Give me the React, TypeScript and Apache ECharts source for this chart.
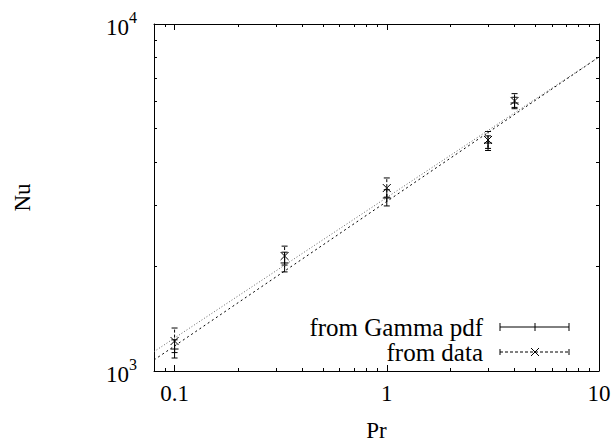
import React, { useEffect, useRef } from 'react';
import * as echarts from 'echarts';

const prValues = [0.1, 0.33, 1, 3, 4];
const gammaNu = [1157, 2048, 3152, 4540, 5920];
const gammaLow = [1090, 1930, 2990, 4320, 5700];
const gammaHigh = [1230, 2200, 3330, 4760, 6150];
const dataNu = [1220, 2145, 3367, 4632, 6000];
const dataLow = [1130, 2020, 3170, 4380, 5750];
const dataHigh = [1330, 2290, 3600, 4900, 6300];
const fitPr = [0.08, 10];
const fitGammaNu = [1076, 8035];
const fitDataNu = [1137, 8035];
const xMajorTicks = [0.1, 1, 10];
const xMinorTicks = [0.09, 0.2, 0.3, 0.4, 0.5, 0.6, 0.7, 0.8, 0.9, 2, 3, 4, 5, 6, 7, 8, 9];
const yMajorTicks = [1000, 10000];
const yMinorTicks = [2000, 3000, 4000, 5000, 6000, 7000, 8000, 9000];
const seriesNames = ['from Gamma pdf', 'from data'];
const xName = 'Pr';
const yName = 'Nu';

const FONT = 'Liberation Serif';

export default function App() {
  const ref = useRef<HTMLDivElement>(null);
  useEffect(() => {
    document.body.style.margin = '0';
    if (!ref.current) return;
    const chart = echarts.init(ref.current, null, { renderer: 'svg' });

    const makeRender = (kind: 'plus' | 'cross', dash: number[] | null) => (params: any, api: any) => {
      const x = api.value(0);
      const c = api.coord([x, api.value(1)]);
      const lo = api.coord([x, api.value(2)]);
      const hi = api.coord([x, api.value(3)]);
      const bar: any = { stroke: '#000', lineWidth: 1 };
      if (dash) bar.lineDash = dash;
      const solid = { stroke: '#000', lineWidth: 1 };
      const cap = 3;
      const m = 4;
      const children: any[] = [
        { type: 'line', shape: { x1: c[0], y1: lo[1], x2: c[0], y2: hi[1] }, style: bar },
        { type: 'line', shape: { x1: c[0] - cap, y1: lo[1], x2: c[0] + cap, y2: lo[1] }, style: solid },
        { type: 'line', shape: { x1: c[0] - cap, y1: hi[1], x2: c[0] + cap, y2: hi[1] }, style: solid },
      ];
      if (kind === 'plus') {
        children.push({ type: 'line', shape: { x1: c[0] - m, y1: c[1], x2: c[0] + m, y2: c[1] }, style: solid });
        children.push({ type: 'line', shape: { x1: c[0], y1: c[1] - m, x2: c[0], y2: c[1] + m }, style: solid });
      } else {
        children.push({ type: 'line', shape: { x1: c[0] - m, y1: c[1] - m, x2: c[0] + m, y2: c[1] + m }, style: solid });
        children.push({ type: 'line', shape: { x1: c[0] - m, y1: c[1] + m, x2: c[0] + m, y2: c[1] - m }, style: solid });
      }
      return { type: 'group', children };
    };

    const axisCommon = {
      type: 'log' as const,
      logBase: 10,
      splitLine: { show: false },
      axisLine: { show: true, lineStyle: { color: '#000', width: 1 } },
    };
    const xBase = { ...axisCommon, min: 0.08, max: 10 };
    const yBase = { ...axisCommon, min: 1000, max: 10000 };
    const noLabel = { show: false };

    const option: any = {
      animation: false,
      backgroundColor: '#fff',
      textStyle: { fontFamily: FONT },
      grid: { left: 154, top: 24, width: 445, height: 347, outerBoundsMode: 'none' },
      xAxis: [
        {
          ...xBase,
          position: 'bottom',
          name: xName,
          nameLocation: 'middle',
          nameGap: 48,
          nameTextStyle: { fontFamily: FONT, fontSize: 23, color: '#000' },
          axisTick: { inside: true, length: 6, customValues: xMajorTicks, lineStyle: { color: '#000' } },
          axisLabel: {
            customValues: xMajorTicks,
            margin: 11,
            fontFamily: FONT,
            fontSize: 23,
            color: '#000',
            formatter: (v: number) => String(v),
          },
        },
        {
          ...xBase,
          position: 'top',
          axisTick: { inside: true, length: 6, customValues: xMajorTicks, lineStyle: { color: '#000' } },
          axisLabel: noLabel,
        },
        {
          ...xBase,
          position: 'top',
          axisLine: { show: false },
          axisTick: { inside: true, length: 3, customValues: xMinorTicks, lineStyle: { color: '#000' } },
          axisLabel: noLabel,
        },
        {
          ...xBase,
          position: 'bottom',
          axisLine: { show: false },
          axisTick: { inside: true, length: 3, customValues: xMinorTicks, lineStyle: { color: '#000' } },
          axisLabel: noLabel,
        },
      ],
      yAxis: [
        {
          ...yBase,
          position: 'left',
          name: yName,
          nameLocation: 'middle',
          nameRotate: 90,
          nameGap: 120,
          nameTextStyle: { fontFamily: FONT, fontSize: 23, color: '#000' },
          axisTick: { inside: true, length: 6, customValues: yMajorTicks, lineStyle: { color: '#000' } },
          axisLabel: {
            customValues: yMajorTicks,
            margin: 17,
            color: '#000',
            formatter: (v: number) => `{b|10}{s|${Math.round(Math.log10(v))}}`,
            rich: {
              b: { fontFamily: FONT, fontSize: 23, color: '#000', verticalAlign: 'bottom', lineHeight: 30 },
              s: { fontFamily: FONT, fontSize: 16, color: '#000', verticalAlign: 'top', lineHeight: 30 },
            },
          },
        },
        {
          ...yBase,
          position: 'right',
          axisTick: { inside: true, length: 6, customValues: yMajorTicks, lineStyle: { color: '#000' } },
          axisLabel: noLabel,
        },
        {
          ...yBase,
          position: 'right',
          axisLine: { show: false },
          axisTick: { inside: true, length: 3, customValues: yMinorTicks, lineStyle: { color: '#000' } },
          axisLabel: noLabel,
        },
        {
          ...yBase,
          position: 'left',
          axisLine: { show: false },
          axisTick: { inside: true, length: 3, customValues: yMinorTicks, lineStyle: { color: '#000' } },
          axisLabel: noLabel,
        },
      ],
      series: [
        {
          name: seriesNames[0] + ' fit',
          type: 'line',
          data: fitPr.map((p, i) => [p, fitGammaNu[i]]),
          symbol: 'none',
          lineStyle: { color: '#000', width: 1, type: [2, 3] },
          silent: true,
        },
        {
          name: seriesNames[1] + ' fit',
          type: 'line',
          data: fitPr.map((p, i) => [p, fitDataNu[i]]),
          symbol: 'none',
          lineStyle: { color: '#666', width: 1, type: [1, 2] },
          silent: true,
        },
        {
          name: seriesNames[0],
          type: 'custom',
          renderItem: makeRender('plus', null),
          encode: { x: 0, y: [1, 2, 3] },
          data: prValues.map((p, i) => [p, gammaNu[i], gammaLow[i], gammaHigh[i]]),
        },
        {
          name: seriesNames[1],
          type: 'custom',
          renderItem: makeRender('cross', [3, 2]),
          encode: { x: 0, y: [1, 2, 3] },
          data: prValues.map((p, i) => [p, dataNu[i], dataLow[i], dataHigh[i]]),
        },
      ],
      graphic: [
        { type: 'text', x: 483, y: 327, style: { text: seriesNames[0], fontFamily: FONT, fontSize: 25, fill: '#000', align: 'right', verticalAlign: 'middle' } },
        { type: 'line', shape: { x1: 500, y1: 327, x2: 569, y2: 327 }, style: { stroke: '#000', lineWidth: 1 } },
        { type: 'line', shape: { x1: 500, y1: 323, x2: 500, y2: 331 }, style: { stroke: '#000', lineWidth: 1 } },
        { type: 'line', shape: { x1: 569, y1: 323, x2: 569, y2: 331 }, style: { stroke: '#000', lineWidth: 1 } },
        { type: 'line', shape: { x1: 535, y1: 323, x2: 535, y2: 331 }, style: { stroke: '#000', lineWidth: 1 } },
        { type: 'text', x: 483, y: 352, style: { text: seriesNames[1], fontFamily: FONT, fontSize: 25, fill: '#000', align: 'right', verticalAlign: 'middle' } },
        { type: 'line', shape: { x1: 500, y1: 352, x2: 569, y2: 352 }, style: { stroke: '#000', lineWidth: 1, lineDash: [3, 2] } },
        { type: 'line', shape: { x1: 500, y1: 349, x2: 500, y2: 355 }, style: { stroke: '#000', lineWidth: 1 } },
        { type: 'line', shape: { x1: 569, y1: 349, x2: 569, y2: 355 }, style: { stroke: '#000', lineWidth: 1 } },
        { type: 'line', shape: { x1: 531, y1: 348, x2: 539, y2: 356 }, style: { stroke: '#000', lineWidth: 1 } },
        { type: 'line', shape: { x1: 531, y1: 356, x2: 539, y2: 348 }, style: { stroke: '#000', lineWidth: 1 } },
      ],
    };
    chart.setOption(option);
    return () => chart.dispose();
  }, []);
  return <div ref={ref} style={{ width: 613, height: 444 }} />;
}
